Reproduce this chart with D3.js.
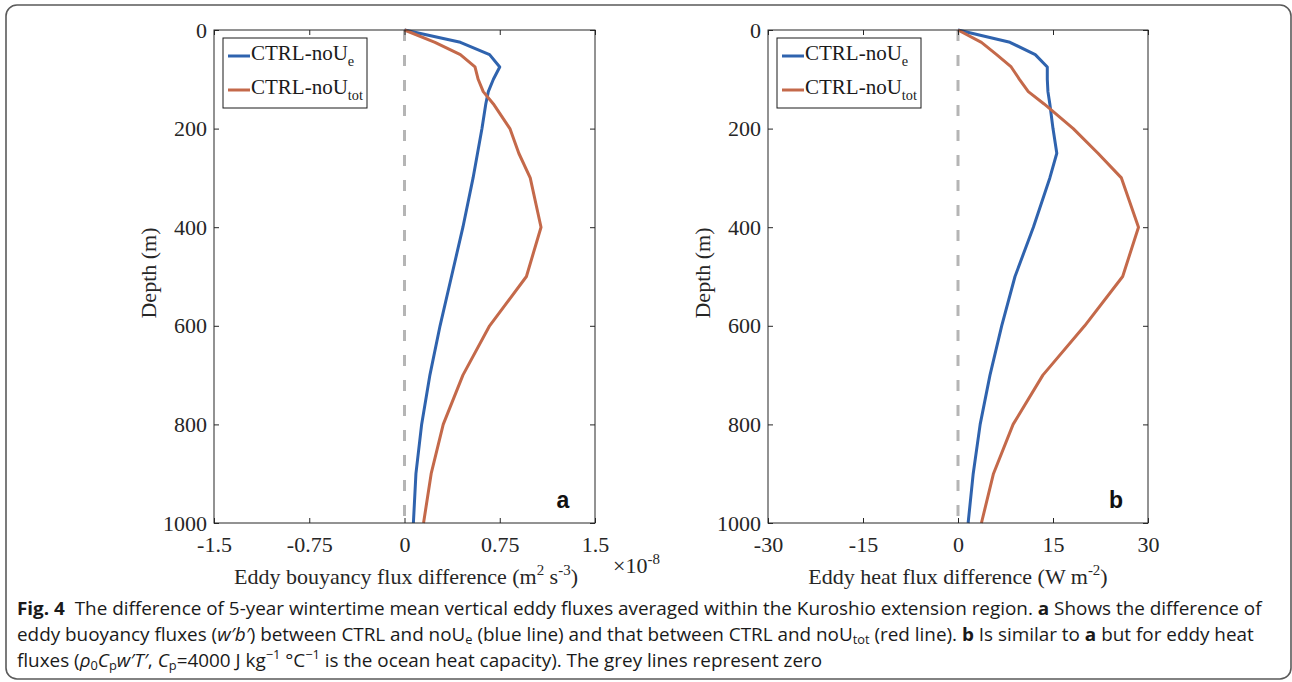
<!DOCTYPE html>
<html lang="en">
<head>
<meta charset="UTF-8">
<title>Eddy flux difference profiles</title>
<script src="https://cdnjs.cloudflare.com/ajax/libs/d3/7.8.5/d3.min.js"></script>
<style>
    body { margin: 0; background: #fff; }
    svg { display: block; }
    .tickText { font-family: 'Liberation Serif', 'Times New Roman', serif; font-size: 22px; fill: #262626; }
</style>
</head>
<body>
<script>

    // depth levels (m)
    var depth = [0, 25, 50, 75, 100, 125, 150, 200, 250, 300, 400, 500, 600, 700, 800, 900, 1000];

    // panel a: eddy buoyancy flux difference (x1e-8 m2 s-3)
    var buoyNoUe   = [0, 0.44, 0.67, 0.75, 0.70, 0.66, 0.64, 0.61, 0.575, 0.54, 0.46, 0.37, 0.28, 0.20, 0.135, 0.09, 0.07];
    var buoyNoUtot = [0, 0.24, 0.44, 0.555, 0.58, 0.62, 0.70, 0.83, 0.90, 0.99, 1.075, 0.96, 0.67, 0.46, 0.305, 0.21, 0.15];

    // panel b: eddy heat flux difference (W m-2)
    var heatNoUe   = [0, 8.2, 12.2, 14.1, 14.1, 14.2, 14.5, 15.0, 15.6, 14.5, 11.9, 9.0, 6.9, 5.05, 3.5, 2.4, 1.6];
    var heatNoUtot = [0, 3.7, 6.1, 8.4, 9.7, 11.1, 13.6, 18.2, 22.1, 25.8, 28.5, 26.0, 20.0, 13.4, 8.7, 5.6, 3.7];

    var depthTicks = [0, 200, 400, 600, 800, 1000];
    var buoyTicks  = [-1.5, -0.75, 0, 0.75, 1.5];
    var heatTicks  = [-30, -15, 0, 15, 30];

    var seriesNames = ["CTRL-noU", "CTRL-noU"];
    var seriesSubs  = ["e", "tot"];
    var seriesColors = ["#2f63ae", "#c4694a"];

    var serif = "'Liberation Serif', 'Times New Roman', serif";

    var widthSVG = 1292, heightSVG = 682;
    var svg = d3.select("body").append("svg")
                .attr("width", widthSVG)
                .attr("height", heightSVG);

    // outer rounded frame
    svg.append("rect")
        .attr("x", 6).attr("y", 5)
        .attr("width", 1285).attr("height", 674)
        .attr("rx", 11)
        .attr("fill", "none")
        .attr("stroke", "#5a5a5a")
        .attr("stroke-width", 1.6);

    // text with superscript / subscript pieces
    function richText(sel, parts, size, subShift){
        var shift = 0;
        subShift = subShift || 0.3;
        parts.forEach(function (p){
            var t = sel.append("tspan").text(p[0]);
            var want = 0;
            if (p[1] === "sup") want = -0.42 * size;
            if (p[1] === "sub") want = subShift * size;
            if (p[1] === "sup" || p[1] === "sub") t.attr("font-size", size * 0.68);
            if (p[1] === "b") t.attr("font-weight", "bold");
            if (p[1] === "i") t.attr("font-style", "italic");
            if (want !== shift) t.attr("dy", want - shift);
            shift = want;
        });
        return sel;
    }

    function drawPanel(p){
        var top = 30, bottom = 523;
        var x = d3.scaleLinear().domain(p.xDomain).range([p.left, p.right]);
        var y = d3.scaleLinear().domain([0, 1000]).range([top, bottom]);
        var g = svg.append("g");

        // zero reference
        g.append("line")
            .attr("x1", x(0)).attr("x2", x(0))
            .attr("y1", y(0)).attr("y2", y(1000))
            .attr("stroke", "#b5b5b5")
            .attr("stroke-width", 3)
            .attr("stroke-dasharray", "11,14");

        var line = d3.line()
                    .x(function (d){ return x(d[0]); })
                    .y(function (d){ return y(d[1]); });

        p.series.forEach(function (vals, i){
            g.append("path")
                .datum(d3.zip(vals, depth))
                .attr("d", line)
                .attr("fill", "none")
                .attr("stroke", seriesColors[i])
                .attr("stroke-width", 3)
                .attr("stroke-linejoin", "round");
        });

        // axes, ticks pointing inward on all four sides
        var fmt = function (d){ return String(d); };
        var axB = g.append("g").attr("transform", "translate(0," + bottom + ")")
                    .call(d3.axisBottom(x).tickValues(p.xTicks).tickFormat(fmt)
                          .tickSizeInner(-5).tickSizeOuter(0).tickPadding(13));
        var axT = g.append("g").attr("transform", "translate(0," + top + ")")
                    .call(d3.axisTop(x).tickValues(p.xTicks).tickFormat("").tickSizeInner(-5).tickSizeOuter(0));
        var axL = g.append("g").attr("transform", "translate(" + p.left + ",0)")
                    .call(d3.axisLeft(y).tickValues(depthTicks).tickFormat(fmt)
                          .tickSizeInner(-5).tickSizeOuter(0).tickPadding(7));
        var axR = g.append("g").attr("transform", "translate(" + p.right + ",0)")
                    .call(d3.axisRight(y).tickValues(depthTicks).tickFormat("").tickSizeInner(-5).tickSizeOuter(0));

        [axB, axT, axL, axR].forEach(function (a){
            a.attr("font-family", serif).attr("font-size", 22);
            a.select(".domain").remove();
            a.selectAll("line").attr("stroke", "#262626");
            a.selectAll("text").attr("class", "tickText").attr("fill", "#262626");
        });

        g.append("rect")
            .attr("x", p.left).attr("y", top)
            .attr("width", p.right - p.left).attr("height", bottom - top)
            .attr("fill", "none")
            .attr("stroke", "#262626")
            .attr("stroke-width", 1);

        // legend
        var lx = p.left + 9, ly = 38;
        g.append("rect")
            .attr("x", lx).attr("y", ly)
            .attr("width", 144).attr("height", 70)
            .attr("fill", "#fff")
            .attr("stroke", "#1a1a1a")
            .attr("stroke-width", 1);
        seriesNames.forEach(function (name, i){
            var yy = ly + 18 + i * 34;
            g.append("line")
                .attr("x1", lx + 5).attr("x2", lx + 27)
                .attr("y1", yy).attr("y2", yy)
                .attr("stroke", seriesColors[i])
                .attr("stroke-width", 3);
            richText(g.append("text")
                        .attr("x", lx + 28).attr("y", yy + 4)
                        .attr("font-family", serif)
                        .attr("font-size", 21)
                        .attr("fill", "#1a1a1a"),
                     [[name, ""], [seriesSubs[i], "sub"]], 21);
        });

        // axis titles
        g.append("text")
            .attr("transform", "translate(" + (p.left - 58) + ",273) rotate(-90)")
            .attr("text-anchor", "middle")
            .attr("font-family", serif)
            .attr("font-size", 22)
            .attr("fill", "#262626")
            .text("Depth (m)");

        richText(g.append("text")
                    .attr("x", p.xLabelX).attr("y", 584)
                    .attr("text-anchor", "middle")
                    .attr("font-family", serif)
                    .attr("font-size", 22)
                    .attr("fill", "#262626"),
                 p.xLabel, 22);

        // panel letter
        g.append("text")
            .attr("x", p.right - 32).attr("y", 508)
            .attr("text-anchor", "middle")
            .attr("font-family", "'Liberation Sans', Arial, sans-serif")
            .attr("font-weight", "bold")
            .attr("font-size", 23)
            .attr("fill", "#111")
            .text(p.letter);

        return x;
    }

    drawPanel({
        left: 214, right: 595, xDomain: [-1.5, 1.5], xTicks: buoyTicks,
        series: [buoyNoUe, buoyNoUtot], letter: "a", xLabelX: 406,
        xLabel: [["Eddy bouyancy flux difference (m", ""], ["2", "sup"], [" s", ""], ["-3", "sup"], [")", ""]]
    });
    drawPanel({
        left: 768, right: 1148, xDomain: [-30, 30], xTicks: heatTicks,
        series: [heatNoUe, heatNoUtot], letter: "b", xLabelX: 958,
        xLabel: [["Eddy heat flux difference (W m", ""], ["-2", "sup"], [")", ""]]
    });

    // exponent note of panel a
    richText(svg.append("text")
                .attr("x", 613).attr("y", 573)
                .attr("font-family", serif)
                .attr("font-size", 22)
                .attr("fill", "#262626"),
             [["×10", ""], ["-8", "sup"]], 22);

    // caption
    var capLines = [
        [["Fig. 4", "b"], ["  The difference of 5-year wintertime mean vertical eddy fluxes averaged within the Kuroshio extension region. ", ""],
         ["a", "b"], [" Shows the difference of", ""]],
        [["eddy buoyancy fluxes (", ""], ["w\u2032b\u2032", "i"], [") between CTRL and noU", ""], ["e", "sub"],
         [" (blue line) and that between CTRL and noU", ""], ["tot", "sub"], [" (red line). ", ""], ["b", "b"],
         [" Is similar to ", ""], ["a", "b"], [" but for eddy heat", ""]],
        [["fluxes (", ""], ["\u03c1", "i"], ["0", "sub"], ["C", "i"], ["p", "sub"], ["w\u2032T\u2032", "i"], [", ", ""],
         ["C", "i"], ["p", "sub"], ["=4000 J kg", ""], ["\u22121", "sup"], [" \u00b0C", ""], ["\u22121", "sup"],
         [" is the ocean heat capacity). The grey lines represent zero", ""]]
    ];
    var capX = 17, capTexts = [];
    capLines.forEach(function (parts, i){
        var t = svg.append("text")
                    .attr("x", capX).attr("y", 615 + i * 26)
                    .attr("font-family", "'Open Sans', 'Noto Sans', sans-serif")
                    .attr("font-size", 18.5)
                    .attr("fill", "#1a1a1a")
                    .style("white-space", "pre");
        richText(t, parts, 18.5, 0.18);
        capTexts.push(t);
    });
    var ratio = (1262 - capX) / capTexts[0].node().getComputedTextLength();
    capTexts.forEach(function (t){
        t.attr("transform", "translate(" + (capX * (1 - ratio)) + ",0) scale(" + ratio + ",1)");
    });
</script>
</body>
</html>
